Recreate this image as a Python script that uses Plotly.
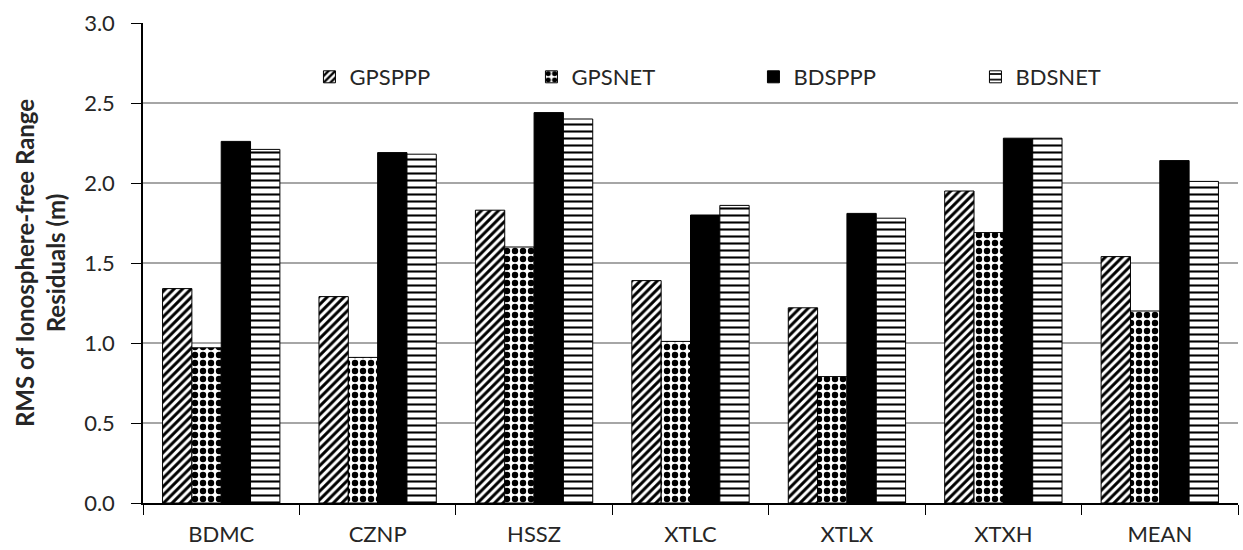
import plotly.graph_objects as go

stations = ["BDMC", "CZNP", "HSSZ", "XTLC", "XTLX", "XTXH", "MEAN"]
gps_ppp = [1.34, 1.29, 1.83, 1.39, 1.22, 1.95, 1.54]
gps_net = [0.97, 0.91, 1.60, 1.01, 0.79, 1.69, 1.20]
bds_ppp = [2.26, 2.19, 2.44, 1.80, 1.81, 2.28, 2.14]
bds_net = [2.21, 2.18, 2.40, 1.86, 1.78, 2.28, 2.01]

series = [
    ("GPSPPP", gps_ppp, dict(shape="/", size=6, solidity=0.5, fgcolor="black", bgcolor="white", fillmode="replace")),
    ("GPSNET", gps_net, dict(shape=".", size=8, solidity=0.5, fgcolor="black", bgcolor="white", fillmode="replace")),
    ("BDSPPP", bds_ppp, None),
    ("BDSNET", bds_net, dict(shape="-", size=7, solidity=0.3, fgcolor="black", bgcolor="white", fillmode="replace")),
]

FONT = "Lato, 'Open Sans', sans-serif"
TXT = "#262626"

fig = go.Figure()
for name, vals, pat in series:
    marker = dict(line=dict(color="black", width=1))
    if pat is None:
        marker["color"] = "black"
    else:
        marker["color"] = "white"
        marker["pattern"] = pat
    fig.add_trace(go.Bar(name=name, x=stations, y=vals, marker=marker))

fig.update_layout(
    width=1243, height=550,
    barmode="group", bargap=0.25, bargroupgap=0,
    plot_bgcolor="white", paper_bgcolor="white",
    margin=dict(l=143, r=5, t=23, b=47, autoexpand=False),
    font=dict(family=FONT, size=22, color=TXT),
    showlegend=True,
    legend=dict(orientation="h", x=0.152, y=0.8875, xanchor="left", yanchor="middle",
                entrywidth=177, entrywidthmode="pixels",
                font=dict(family=FONT, size=22, color=TXT),
                bgcolor="rgba(0,0,0,0)", borderwidth=0),
)
fig.update_yaxes(
    range=[0, 3], dtick=0.5, tickformat=".1f",
    showgrid=True, gridcolor="#a6a6a6", gridwidth=1.5,
    showline=True, linecolor="black", linewidth=1.5,
    ticks="outside", ticklen=10, tickcolor="black", tickwidth=1,
    ticklabelstandoff=12,
    zeroline=False, automargin=False,
    tickfont=dict(family=FONT, size=22, color=TXT),
    title=dict(text="<b>RMS of Ionosphere-free Range<br>Residuals (m)</b>",
               font=dict(family=FONT, size=24, color=TXT), standoff=12),
)
fig.update_xaxes(
    showline=True, linecolor="black", linewidth=1.5,
    ticks="outside", tickson="boundaries", ticklen=10, tickcolor="black", tickwidth=1,
    ticklabelstandoff=11, automargin=False,
    tickfont=dict(family=FONT, size=22, color=TXT),
    showgrid=False,
)

fig.write_html("out.html")
